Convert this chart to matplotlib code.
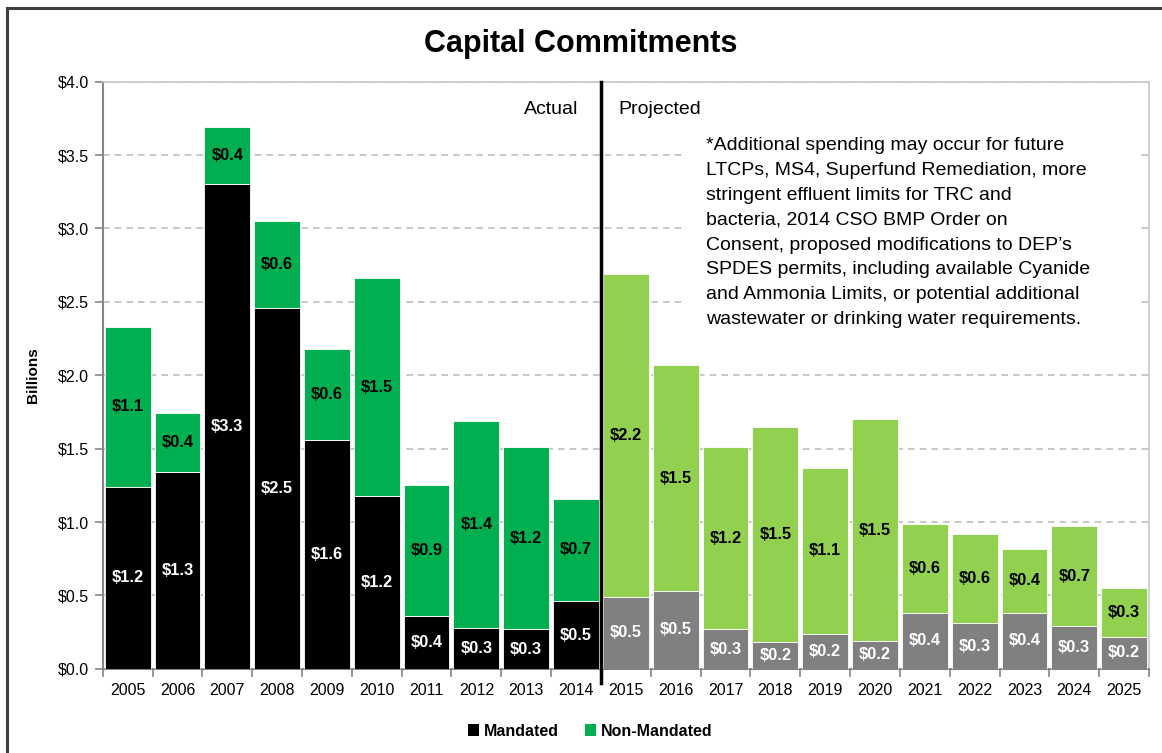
import matplotlib
matplotlib.use("Agg")
import matplotlib.pyplot as plt
from matplotlib.patches import Patch, Rectangle
from matplotlib.lines import Line2D
import numpy as np

plt.rcParams['font.family'] = ['Liberation Sans', 'DejaVu Sans']

# values in billions of dollars
years = [str(y) for y in range(2005, 2026)]
actual_mandated = [1.24, 1.34, 3.30, 2.46, 1.56, 1.18, 0.36, 0.28, 0.27, 0.46]
actual_non_mandated = [1.09, 0.40, 0.39, 0.59, 0.62, 1.48, 0.89, 1.41, 1.24, 0.70]
proj_mandated = [0.49, 0.53, 0.27, 0.18, 0.24, 0.19, 0.38, 0.31, 0.38, 0.29, 0.22]
proj_non_mandated = [2.20, 1.54, 1.24, 1.47, 1.13, 1.51, 0.61, 0.61, 0.44, 0.68, 0.33]
y_ticks = [0.0, 0.5, 1.0, 1.5, 2.0, 2.5, 3.0, 3.5, 4.0]

note = ("*Additional spending may occur for future\n"
        "LTCPs, MS4, Superfund Remediation, more\n"
        "stringent effluent limits for TRC and\n"
        "bacteria, 2014 CSO BMP Order on\n"
        "Consent, proposed modifications to DEP\u2019s\n"
        "SPDES permits, including available Cyanide\n"
        "and Ammonia Limits, or potential additional\n"
        "wastewater or drinking water requirements.")

black, green = '#000000', '#00B050'
gray, lgreen = '#808080', '#92D050'

mandated = actual_mandated + proj_mandated
non_mandated = actual_non_mandated + proj_non_mandated
n_act = len(actual_mandated)
x = np.arange(len(years))
c_man = [black] * n_act + [gray] * len(proj_mandated)
c_non = [green] * n_act + [lgreen] * len(proj_mandated)

fig = plt.figure(figsize=(11.62, 7.53), dpi=100)
ax = fig.add_axes([0.0884, 0.1117, 0.9004, 0.7798])

w = 0.92
ax.bar(x, mandated, width=w, color=c_man, edgecolor='white', linewidth=0.6, zorder=3)
ax.bar(x, non_mandated, width=w, bottom=mandated, color=c_non,
       edgecolor='white', linewidth=0.6, zorder=3)

for i in range(len(years)):
    m, nm = mandated[i], non_mandated[i]
    ax.text(x[i], m / 2, f"${m:.1f}", ha='center', va='center',
            color='white', fontsize=11.8, fontweight='bold', zorder=4)
    ax.text(x[i], m + nm / 2, f"${nm:.1f}", ha='center', va='center',
            color='black', fontsize=11.8, fontweight='bold', zorder=4)

ax.set_xlim(-0.5, len(years) - 0.5)
ax.set_ylim(0, 4.0)
ax.set_yticks(y_ticks)
ax.set_yticklabels([f"${v:.1f}" for v in y_ticks], fontsize=11.5)
ax.set_xticks(x)
ax.set_xticklabels(years, fontsize=11.5)
ax.set_xticks(np.arange(-0.5, len(years)), minor=True)
ax.tick_params(axis='x', which='major', length=0, pad=10)
ax.tick_params(axis='x', which='minor', length=6, color='#868686', width=1.2)
ax.tick_params(axis='y', length=6, color='#868686', width=1.2, pad=4)

ax.grid(axis='y', color='#BFBFBF', linestyle=(0, (4, 3)), linewidth=1.2, zorder=0)
ax.set_axisbelow(True)
for s in ['left', 'bottom']:
    ax.spines[s].set_color('#868686')
    ax.spines[s].set_linewidth(1.5)
for s in ['top', 'right']:
    ax.spines[s].set_color('#C8C8C8')
    ax.spines[s].set_linewidth(1.2)

ax.set_ylabel('Billions', fontsize=11, fontweight='bold', labelpad=13)

# actual / projected split
ax.axvline(n_act - 0.5, ymin=-0.024, ymax=1.0, color='black', linewidth=2.5,
           clip_on=False, zorder=5)
narrow = ['Liberation Sans Narrow', 'Liberation Sans']
ax.text(n_act - 0.5 - 0.45, 3.81, 'Actual', ha='right', va='center',
        fontsize=14, family=narrow)
ax.text(n_act - 0.5 + 0.35, 3.81, 'Projected', ha='left', va='center',
        fontsize=14, family=narrow)

ax.add_patch(Rectangle((11.2, 2.25), 9.1, 1.47, facecolor='white',
                       edgecolor='none', zorder=1))
ax.text(11.6, 3.62, note, ha='left', va='top', fontsize=14,
        linespacing=1.6, zorder=6)

fig.suptitle('Capital Commitments', fontsize=22, fontweight='bold', y=0.962)

handles = [Patch(facecolor=black), Patch(facecolor=green)]
fig.legend(handles, ['Mandated', 'Non-Mandated'], loc='center',
           bbox_to_anchor=(0.508, 0.029), ncol=2, frameon=False,
           handlelength=0.7, handleheight=0.7, handletextpad=0.3,
           columnspacing=1.6, prop={'weight': 'bold', 'size': 11.5})

# frame around the chart area (only top/left edges fall inside the image)
fig.add_artist(Line2D([7 / 1162, 7 / 1162], [0, 1 - 8 / 753], color='#404040',
                      linewidth=2.2, transform=fig.transFigure))
fig.add_artist(Line2D([7 / 1162, 1], [1 - 8 / 753, 1 - 8 / 753], color='#404040',
                      linewidth=2.2, transform=fig.transFigure))

fig.savefig('out.png', dpi=100)
